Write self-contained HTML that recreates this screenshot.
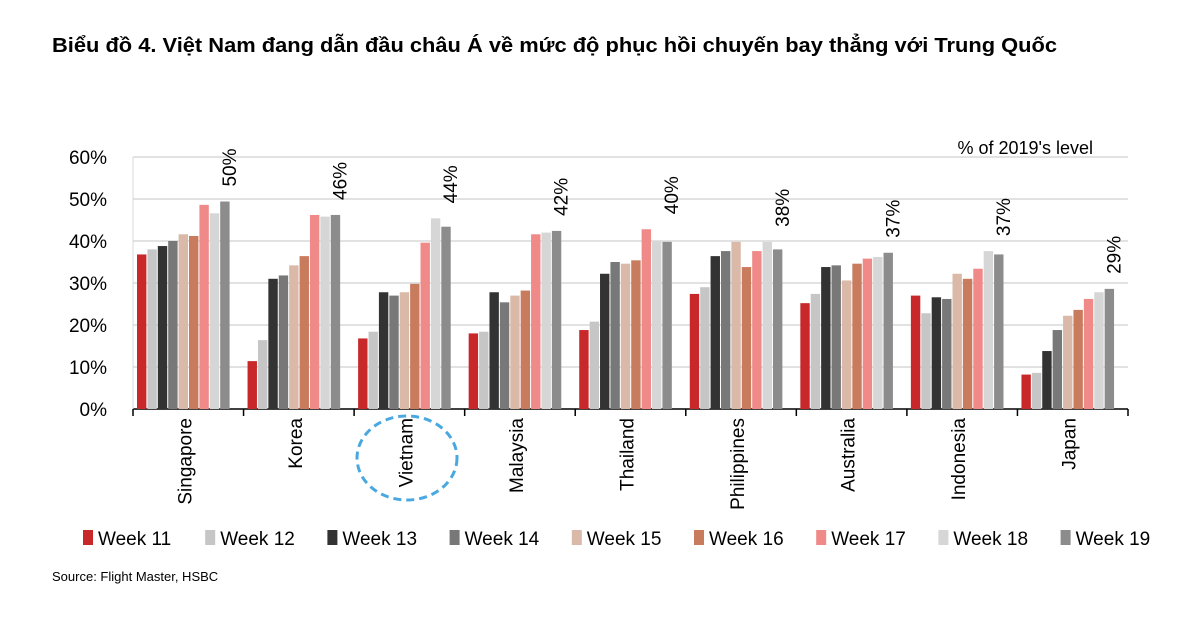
<!DOCTYPE html>
<html><head><meta charset="utf-8"><style>
body{margin:0;background:#fff;width:1200px;height:614px;overflow:hidden;font-family:"Liberation Sans",sans-serif}
</style></head><body>
<svg width="1200" height="614" xmlns="http://www.w3.org/2000/svg">
<text x="52" y="52" textLength="1005" lengthAdjust="spacingAndGlyphs" font-family="Liberation Sans, sans-serif" font-weight="bold" font-size="20" fill="#000">Biểu đồ 4. Việt Nam đang dẫn đầu châu Á về mức độ phục hồi chuyến bay thẳng với Trung Quốc</text>
<text x="1093" y="154" text-anchor="end" font-size="18" fill="#000">% of 2019's level</text>
<g id="grid"></g><g id="bars"></g><g id="labels"></g><g id="legend"></g>
<ellipse cx="407" cy="458" rx="50" ry="42" fill="none" stroke="#4aa8e0" stroke-width="3" stroke-dasharray="8,5"/>
<text x="52" y="581" font-size="13" fill="#000">Source: Flight Master, HSBC</text>
</svg>
<script>
const categories=["Singapore","Korea","Vietnam","Malaysia","Thailand","Philippines","Australia","Indonesia","Japan"];
const seriesNames=["Week 11","Week 12","Week 13","Week 14","Week 15","Week 16","Week 17","Week 18","Week 19"];
const w11=[36.8,11.4,16.8,18,18.8,27.4,25.2,27,8.2];
const w12=[38,16.4,18.4,18.4,20.8,29,27.4,22.8,8.6];
const w13=[38.8,31,27.8,27.8,32.2,36.4,33.8,26.6,13.8];
const w14=[40,31.8,27,25.4,35,37.6,34.2,26.2,18.8];
const w15=[41.6,34.2,27.8,27,34.6,39.8,30.6,32.2,22.2];
const w16=[41.2,36.4,29.8,28.2,35.4,33.8,34.6,31,23.6];
const w17=[48.6,46.2,39.6,41.6,42.8,37.6,35.8,33.4,26.2];
const w18=[46.6,45.8,45.4,42,40,39.8,36.2,37.6,27.8];
const w19=[49.4,46.2,43.4,42.4,39.8,38,37.2,36.8,28.6];
const recoveryLabels=["50%","46%","44%","42%","40%","38%","37%","37%","29%"];
const yTicks=[0,10,20,30,40,50,60];
const series=[w11,w12,w13,w14,w15,w16,w17,w18,w19];
const colors=["#c9282a","#c6c6c6","#333333","#787878","#dbb9a8","#c97b5e","#f08a88","#d6d6d6","#8c8c8c"];
const NS="http://www.w3.org/2000/svg";
const X0=133,X1=1128,Y0=409,PER=4.2;
const gw=(X1-X0)/categories.length;
const y=v=>Y0-v*PER;
function mk(t,a,p){const e=document.createElementNS(NS,t);for(const k in a)e.setAttribute(k,a[k]);p.appendChild(e);return e;}
const grid=document.getElementById('grid'),bars=document.getElementById('bars'),labels=document.getElementById('labels'),legend=document.getElementById('legend');
yTicks.forEach(t=>{
 if(t>0){const l=mk('line',{x1:X0,x2:X1,y1:y(t),y2:y(t),stroke:'#d9d9d9','stroke-width':1.5},grid);
 
 }
 const tx=mk('text',{x:107,y:y(t)+7,'text-anchor':'end','font-size':19,fill:'#000'},grid);tx.textContent=t+'%';
 
 
});
const ax=mk('line',{x1:X0,x2:X1,y1:Y0,y2:Y0,stroke:'#000','stroke-width':1.5},grid);


mk('line',{x1:X0,x2:X0,y1:157,y2:Y0,stroke:'#d9d9d9','stroke-width':1},grid);
for(let i=0;i<=categories.length;i++){mk('line',{x1:X0+i*gw,x2:X0+i*gw,y1:Y0,y2:Y0+7,stroke:'#000','stroke-width':1.5},grid);}
const bw=10.4;
categories.forEach((c,i)=>{
 const gx=X0+i*gw+4;
 let mx=0;
 series.forEach((s,j)=>{
  const v=s[i];mx=Math.max(mx,v);
  const r=mk('rect',{x:gx+j*bw,y:y(v),width:bw-1,height:v*PER,fill:colors[j]},bars);
  
  
 });
 const lx=gx+92+7,ly=y(mx)-15;
 const t=mk('text',{x:lx,y:ly,transform:`rotate(-90 ${lx} ${ly})`,'font-size':19,fill:'#000'},labels);t.textContent=recoveryLabels[i];
 
 
 const cx=X0+i*gw+gw/2+3,cy=418;
 const ct=mk('text',{x:cx,y:cy,transform:`rotate(-90 ${cx} ${cy})`,'text-anchor':'end','font-size':19,fill:'#000'},labels);ct.textContent=c;
 
 
});
seriesNames.forEach((n,j)=>{
 const lx=83+j*122.2;
 const g=mk('g',{},legend);
 
 
 mk('rect',{x:lx,y:530,width:10,height:15,fill:colors[j]},g);
 const t=mk('text',{x:lx+15,y:545,'font-size':19,fill:'#000'},g);t.textContent=n;
});
</script>
</body></html>
